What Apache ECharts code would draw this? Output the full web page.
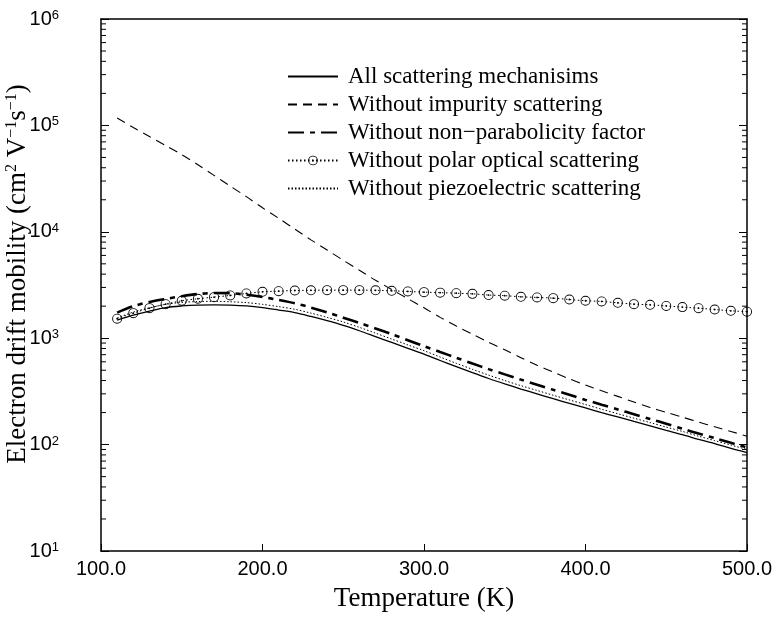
<!DOCTYPE html>
<html>
<head>
<meta charset="utf-8">
<script src="https://cdn.jsdelivr.net/npm/echarts@6/dist/echarts.min.js"></script>
<style>
  html, body { margin: 0; padding: 0; background: #fff; }
  #main { width: 778px; height: 619px; }
</style>
</head>
<body>
<div id="main"></div>
<script>
var chartDom = document.getElementById('main');
var myChart = echarts.init(chartDom);
var option;

// temperature grid (K)
var temps = [110, 120, 130, 140, 150, 160, 170, 180, 190, 200,
  210, 220, 230, 240, 250, 260, 270, 280, 290, 300,
  310, 320, 330, 340, 350, 360, 370, 380, 390, 400,
  410, 420, 430, 440, 450, 460, 470, 480, 490, 500];

// mobility values (cm^2 V^-1 s^-1)
var allScattering = [1480, 1650, 1800, 1940, 2010, 2050, 2060, 2045, 2010, 1940,
  1840, 1740, 1600, 1460, 1320, 1175, 1035, 912, 803, 708,
  617, 540, 474, 418, 372, 333, 300, 270, 244, 221,
  200, 182, 165, 150, 136, 124, 112, 102, 92, 84];

var noImpurity = [117500, 95500, 78500, 64600, 53100, 42700, 33900, 26900, 21400, 16800,
  13400, 10600, 8400, 6750, 5400, 4350, 3500, 2870, 2350, 1930,
  1570, 1300, 1090, 915, 778, 655, 558, 480, 415, 363,
  320, 284, 251, 223, 201, 181, 163, 147, 133, 120];

var noNonParabolicity = [1740, 2000, 2190, 2340, 2480, 2600, 2660, 2650, 2560, 2440,
  2290, 2130, 1940, 1750, 1560, 1390, 1235, 1090, 958, 842,
  742, 655, 578, 512, 457, 408, 365, 327, 294, 263,
  237, 214, 193, 174, 157, 141, 127, 115, 104, 94];

var noPolarOptical = [1525, 1720, 1916, 2088, 2249, 2349, 2432, 2523, 2633, 2730,
  2767, 2807, 2820, 2830, 2830, 2830, 2820, 2790, 2750, 2710,
  2680, 2650, 2610, 2545, 2510, 2450, 2415, 2380, 2310, 2250,
  2215, 2150, 2090, 2060, 2010, 1960, 1915, 1860, 1810, 1775];

var noPiezo = [1550, 1760, 1930, 2080, 2170, 2210, 2220, 2200, 2160, 2080,
  1980, 1870, 1720, 1570, 1420, 1265, 1115, 982, 865, 763,
  665, 581, 510, 450, 400, 358, 323, 291, 263, 238,
  215, 195, 177, 161, 146, 133, 120, 109, 99, 90];

var seriesNames = [
  'All scattering mechanisims',
  'Without impurity scattering',
  'Without non\u2212parabolicity factor',
  'Without polar optical scattering',
  'Without piezoelectric scattering'
];

// minor ticks of the log axis at 2..9 x 10^k
var minorTicks = [];
for (var k = 1; k < 6; k++) {
  for (var m = 2; m <= 9; m++) {
    minorTicks.push([100, m * Math.pow(10, k)]);
  }
}

function pairs(ys) {
  return temps.map(function (t, i) { return [t, ys[i]]; });
}

var serif = 'Liberation Serif';
var sans = 'Liberation Sans';

// ring with a centre dot, like the plotted markers
var ringDot = 'path://M0,-5A5,5,0,1,1,0,5A5,5,0,1,1,0,-5Z' +
  'M0,-4.1A4.1,4.1,0,1,0,0,4.1A4.1,4.1,0,1,0,0,-4.1Z' +
  'M0,-0.9A0.9,0.9,0,1,1,0,0.9A0.9,0.9,0,1,1,0,-0.9Z';

var hideMark = { opacity: 0 };

option = {
  backgroundColor: '#fff',
  animation: false,
  grid: { left: 101, right: 31, top: 19, bottom: 68, containLabel: false, outerBoundsMode: 'none' },
  legend: {
    orient: 'vertical',
    left: 282,
    top: 60,
    itemWidth: 50,
    itemHeight: 12,
    itemGap: 5,
    data: [
      { name: seriesNames[0], itemStyle: hideMark },
      { name: seriesNames[1], itemStyle: hideMark },
      { name: seriesNames[2], itemStyle: hideMark },
      { name: seriesNames[3] },
      { name: seriesNames[4], itemStyle: hideMark }
    ],
    textStyle: { fontFamily: serif, fontSize: 23, lineHeight: 22, color: '#000', padding: [0, 0, 0, 5] }
  },
  xAxis: [
    {
      type: 'value',
      min: 100,
      max: 500,
      interval: 100,
      name: 'Temperature (K)',
      nameLocation: 'middle',
      nameGap: 34,
      nameMoveOverlap: false,
      nameTextStyle: { fontFamily: serif, fontSize: 27, color: '#000' },
      axisLine: { lineStyle: { color: '#000', width: 1.5 } },
      axisTick: { inside: true, length: 7, lineStyle: { color: '#000', width: 1 } },
      axisLabel: {
        fontFamily: sans, fontSize: 20, color: '#000', margin: 8,
        formatter: function (v) { return v.toFixed(1); }
      },
      splitLine: { show: false }
    },
    {
      type: 'value',
      position: 'top',
      min: 100,
      max: 500,
      interval: 100,
      axisLine: { lineStyle: { color: '#000', width: 1.5 } },
      axisTick: { show: false },
      axisLabel: { show: false },
      splitLine: { show: false }
    }
  ],
  yAxis: [
    {
      type: 'log',
      logBase: 10,
      min: 10,
      max: 1000000,
      name: 'Electron drift mobility (cm{sup|2} V{sup|\u22121}s{sup|\u22121})',
      nameLocation: 'middle',
      nameGap: 70,
      nameMoveOverlap: false,
      nameTextStyle: {
        fontFamily: serif, fontSize: 27, color: '#000',
        padding: [0, 0, 0, 22],
        rich: { sup: { fontFamily: serif, fontSize: 16, verticalAlign: 'top', lineHeight: 12 } }
      },
      axisLine: { lineStyle: { color: '#000', width: 1.5 } },
      axisTick: { inside: true, length: 8, lineStyle: { color: '#000', width: 1 } },
      axisLabel: {
        margin: 42,
        fontFamily: sans, fontSize: 20, color: '#000',
        formatter: function (v) {
          return '10{sup|' + Math.round(Math.log10(v)) + '}';
        },
        rich: { sup: { fontFamily: sans, fontSize: 13, verticalAlign: 'top', lineHeight: 10 } }
      },
      splitLine: { show: false }
    },
    {
      type: 'log',
      logBase: 10,
      min: 10,
      max: 1000000,
      position: 'right',
      axisLine: { lineStyle: { color: '#000', width: 1.5 } },
      axisTick: { inside: true, length: 8, lineStyle: { color: '#000', width: 1 } },
      axisLabel: { show: false },
      splitLine: { show: false }
    }
  ],
  series: [
    {
      name: seriesNames[0],
      type: 'line',
      symbol: 'none',
      smooth: 0.3,
      data: pairs(allScattering),
      lineStyle: { color: '#000', width: 1.3, type: 'solid' },
      itemStyle: { color: '#000' },
      z: 3
    },
    {
      name: seriesNames[1],
      type: 'line',
      symbol: 'none',
      smooth: 0.3,
      data: pairs(noImpurity),
      lineStyle: { color: '#000', width: 1.1, type: [9, 6] },
      itemStyle: { color: '#000' },
      z: 3
    },
    {
      name: seriesNames[2],
      type: 'line',
      symbol: 'none',
      smooth: 0.3,
      data: pairs(noNonParabolicity),
      lineStyle: { color: '#000', width: 2.6, type: [16, 6, 5, 6] },
      itemStyle: { color: '#000' },
      z: 3
    },
    {
      name: seriesNames[3],
      type: 'line',
      symbol: ringDot,
      symbolSize: 10,
      smooth: 0.3,
      data: pairs(noPolarOptical),
      lineStyle: { color: '#000', width: 1, type: [1.5, 2.5] },
      itemStyle: { color: '#000', borderWidth: 0 },
      z: 4
    },
    {
      name: seriesNames[4],
      type: 'line',
      symbol: 'none',
      smooth: 0.3,
      data: pairs(noPiezo),
      lineStyle: { color: '#000', width: 1, type: [1.5, 2] },
      itemStyle: { color: '#000' },
      z: 3
    },
    {
      name: 'minor ticks',
      type: 'custom',
      silent: true,
      clip: false,
      data: minorTicks,
      encode: { x: 0, y: 1 },
      renderItem: function (params, api) {
        var v = api.value(1);
        var pL = api.coord([100, v]);
        var pR = api.coord([500, v]);
        return {
          type: 'group',
          children: [
            { type: 'line', shape: { x1: pL[0], y1: pL[1], x2: pL[0] + 5, y2: pL[1] },
              style: { stroke: '#000', lineWidth: 1 } },
            { type: 'line', shape: { x1: pR[0] - 5, y1: pR[1], x2: pR[0], y2: pR[1] },
              style: { stroke: '#000', lineWidth: 1 } }
          ]
        };
      },
      z: 5
    }
  ]
};

myChart.setOption(option);
</script>
</body>
</html>
